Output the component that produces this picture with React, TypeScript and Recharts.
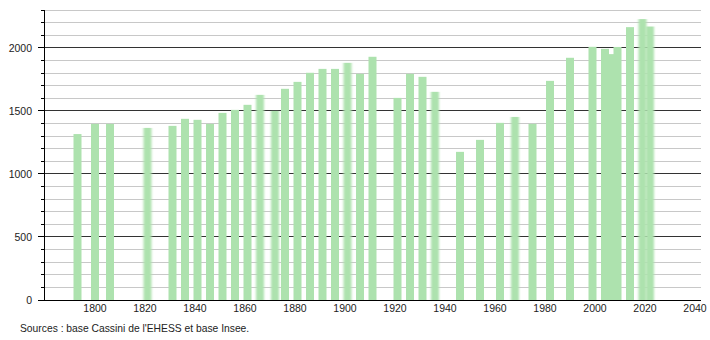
import { Bar, BarChart, CartesianGrid, XAxis, YAxis } from "recharts";

const YEARS = [
  1793, 1800, 1806, 1821, 1831, 1836, 1841, 1846, 1851, 1856, 1861, 1866, 1872,
  1876, 1881, 1886, 1891, 1896, 1901, 1906, 1911, 1921, 1926, 1931, 1936, 1946,
  1954, 1962, 1968, 1975, 1982, 1990, 1999, 2004, 2006, 2009, 2014, 2019, 2022
];
const POPULATION = [
  1316, 1397, 1397, 1365, 1381, 1437, 1429, 1397, 1484, 1508, 1548, 1627, 1500,
  1675, 1730, 1802, 1833, 1833, 1881, 1794, 1929, 1603, 1794, 1770, 1651, 1175,
  1270, 1405, 1452, 1397, 1738, 1921, 2008, 1992, 1950, 2007, 2164, 2228, 2169
];
const X_TICKS = [1800, 1820, 1840, 1860, 1880, 1900, 1920, 1940, 1960, 1980, 2000, 2020, 2040];
const Y_TICKS = Array.from({ length: 24 }, (_, i) => i * 100);

const data = YEARS.map((year, i) => ({ year, pop: POPULATION[i] }));

const FONT = "'Liberation Sans', Arial, sans-serif";
const BAR_W = 8;
// bars that look smeared sideways in the original image
const SOFT = new Set([1821, 1866, 1872, 1901, 1936, 1968, 2019, 2022]);

function YTick(props: any) {
  const { x, y, payload } = props;
  const major = payload.value % 500 === 0;
  return (
    <g shapeRendering="crispEdges">
      <line x1={x - (major ? 6 : 3)} x2={x} y1={y} y2={y} stroke="#000" strokeWidth={1} />
      {major && (
        <text x={x - 12} y={y} dy={4} textAnchor="end" fontSize={10.5} fill="#222" fontFamily={FONT}>
          {payload.value}
        </text>
      )}
    </g>
  );
}

// grid line: darker every 500
function GridLine(props: any) {
  const { x1, x2, y1, y2, index } = props;
  const major = index % 5 === 0;
  return (
    <line
      x1={x1}
      x2={x2}
      y1={y1}
      y2={y2}
      stroke={major ? "#333" : "#c8c8c8"}
      strokeWidth={1}
      shapeRendering="crispEdges"
    />
  );
}

function WideBar(props: any) {
  const { x, y, width, height, fill, payload } = props;
  if (!height || height <= 0) return null;
  const soft = payload && SOFT.has(payload.year);
  return (
    <rect
      x={x + width / 2 - BAR_W / 2}
      y={y}
      width={BAR_W}
      height={height}
      fill={fill}
      filter={soft ? "url(#smear)" : undefined}
    />
  );
}

export default function App() {
  return (
    <div style={{ position: "absolute", left: 0, top: 0, width: 710, height: 340, background: "#fff" }}>
      <svg width={0} height={0} style={{ position: "absolute" }}>
        <defs>
          <filter id="smear" x="-60%" y="0%" width="220%" height="100%">
            <feGaussianBlur stdDeviation="1.3 0" />
          </filter>
        </defs>
      </svg>
      <BarChart
        width={710}
        height={340}
        data={data}
        margin={{ top: 10, right: 9, left: 0, bottom: 0 }}
      >
        <CartesianGrid vertical={false} horizontal={<GridLine />} />
        <XAxis
          dataKey="year"
          type="number"
          domain={[1779.6, 2042.4]}
          allowDataOverflow
          ticks={X_TICKS}
          tickLine={false}
          tickSize={0}
          tickMargin={5}
          height={40}
          axisLine={{ stroke: "#000", shapeRendering: "crispEdges" }}
          tick={{ fill: "#222", fontSize: 10.5, fontFamily: FONT }}
          interval={0}
        />
        <YAxis
          domain={[0, 2300]}
          ticks={Y_TICKS}
          interval={0}
          width={44}
          tickLine={false}
          tickSize={0}
          tickMargin={0}
          axisLine={{ stroke: "#000", shapeRendering: "crispEdges" }}
          tick={<YTick />}
        />
        <Bar dataKey="pop" fill="#ade2ae" shape={<WideBar />} isAnimationActive={false} />
      </BarChart>
      <div
        style={{
          position: "absolute",
          left: 20,
          top: 323,
          fontSize: 10.3,
          fontFamily: FONT,
          color: "#222",
          whiteSpace: "nowrap"
        }}
      >
        Sources : base Cassini de l'EHESS et base Insee.
      </div>
    </div>
  );
}
